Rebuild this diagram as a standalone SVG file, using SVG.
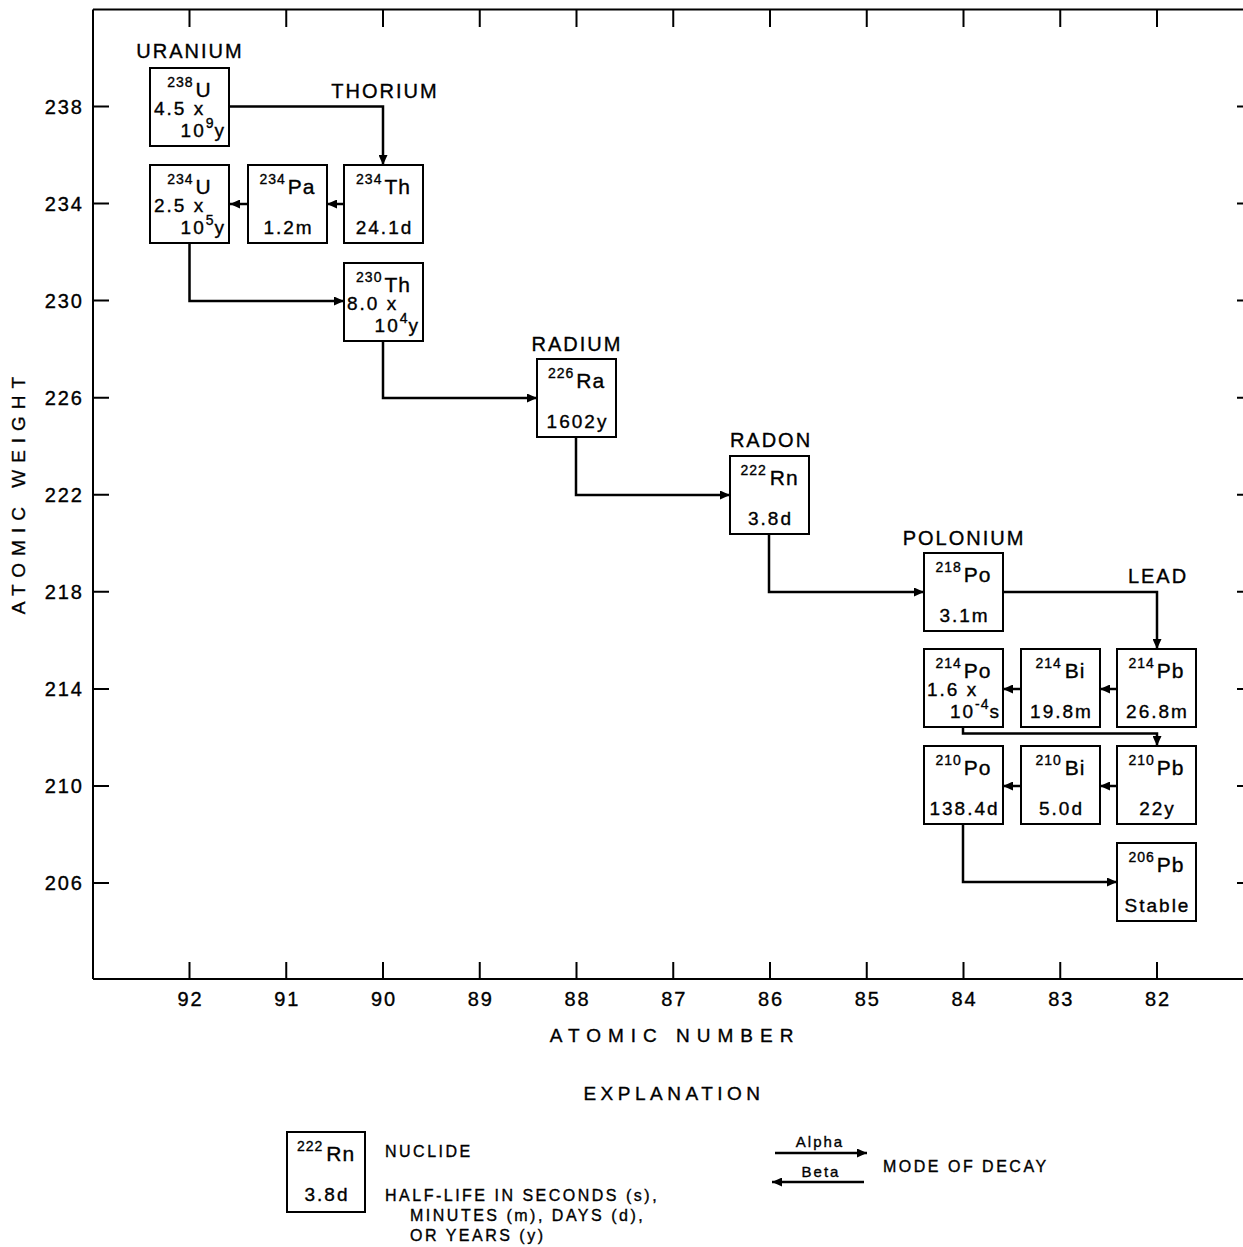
<svg xmlns="http://www.w3.org/2000/svg" width="1243" height="1247" viewBox="0 0 1243 1247">
<style>
text{font-family:"Liberation Sans",Arial,Helvetica,sans-serif;fill:#000;stroke:#000;stroke-width:0.35px}
.frame{fill:none;stroke:#000;stroke-width:2}
.tick{fill:none;stroke:#000;stroke-width:2}
.box{fill:#fff;stroke:#000;stroke-width:2}
.conn{fill:none;stroke:#000;stroke-width:2.5}
.lbl{font-size:20px;letter-spacing:2px;text-anchor:middle}
.axy{font-size:20px;letter-spacing:2px;text-anchor:end}
.axx{font-size:20px;letter-spacing:2px;text-anchor:middle}
.title{font-size:19px;letter-spacing:7px;text-anchor:middle}
.hdr{text-anchor:middle}
.sym{font-size:21px;letter-spacing:1px}
.sup{font-size:14px;letter-spacing:1px}
.hl{font-size:19px;letter-spacing:2px}
.mid{text-anchor:middle}
.end{text-anchor:end}
.leg{font-size:16px;letter-spacing:2.5px}
.legs{font-size:15px;letter-spacing:2px;text-anchor:middle}
</style>
<defs>
<marker id="ah" markerUnits="userSpaceOnUse" markerWidth="10" markerHeight="9" refX="10" refY="4.5" orient="auto">
<path d="M0,0 L10,4.5 L0,9 z" fill="#000"/>
</marker>
</defs>
<rect width="1243" height="1247" fill="#fff"/>

<g id="axes">
<path class="frame" d="M93,9.5 H1243 M93,9.5 V979 M93,979 H1243"/>
<path class="tick" d="M189.5,9.5V27 M286.25,9.5V27 M383,9.5V27 M479.75,9.5V27 M576.5,9.5V27 M673.25,9.5V27 M770,9.5V27 M866.75,9.5V27 M963.5,9.5V27 M1060.25,9.5V27 M1157,9.5V27"/>
<path class="tick" d="M189.5,979V962 M286.25,979V962 M383,979V962 M479.75,979V962 M576.5,979V962 M673.25,979V962 M770,979V962 M866.75,979V962 M963.5,979V962 M1060.25,979V962 M1157,979V962"/>
<path class="tick" d="M93,106.5H109 M93,203.6H109 M93,300.6H109 M93,397.7H109 M93,494.7H109 M93,591.8H109 M93,688.9H109 M93,785.9H109 M93,883H109"/>
<path class="tick" d="M1237,106.5H1243 M1237,203.6H1243 M1237,300.6H1243 M1237,397.7H1243 M1237,494.7H1243 M1237,591.8H1243 M1237,688.9H1243 M1237,785.9H1243 M1237,883H1243"/>
<text class="axy" x="84" y="113.5">238</text>
<text class="axy" x="84" y="210.6">234</text>
<text class="axy" x="84" y="307.6">230</text>
<text class="axy" x="84" y="404.7">226</text>
<text class="axy" x="84" y="501.7">222</text>
<text class="axy" x="84" y="598.8">218</text>
<text class="axy" x="84" y="695.9">214</text>
<text class="axy" x="84" y="792.9">210</text>
<text class="axy" x="84" y="890">206</text>
<text class="axx" x="190.5" y="1006">92</text>
<text class="axx" x="287.25" y="1006">91</text>
<text class="axx" x="384" y="1006">90</text>
<text class="axx" x="480.75" y="1006">89</text>
<text class="axx" x="577.5" y="1006">88</text>
<text class="axx" x="674.25" y="1006">87</text>
<text class="axx" x="771" y="1006">86</text>
<text class="axx" x="867.75" y="1006">85</text>
<text class="axx" x="964.5" y="1006">84</text>
<text class="axx" x="1061.25" y="1006">83</text>
<text class="axx" x="1158" y="1006">82</text>
<text class="title" x="675" y="1042">ATOMIC NUMBER</text>
<text class="title" transform="translate(25,495) rotate(-90)" x="3" y="0">ATOMIC WEIGHT</text>
</g>

<g id="element-labels">
<text class="lbl" x="190" y="58">URANIUM</text>
<text class="lbl" x="385" y="98">THORIUM</text>
<text class="lbl" x="577" y="351">RADIUM</text>
<text class="lbl" x="771" y="447">RADON</text>
<text class="lbl" x="964" y="545">POLONIUM</text>
<text class="lbl" x="1158" y="583">LEAD</text>
</g>

<g id="connectors">
<path class="conn" d="M229,106.5 H383 V165" marker-end="url(#ah)"/>
<path class="conn" d="M344,204 H327" marker-end="url(#ah)"/>
<path class="conn" d="M248,204 H230" marker-end="url(#ah)"/>
<path class="conn" d="M189.5,243 V301 H344" marker-end="url(#ah)"/>
<path class="conn" d="M383,341 V398 H537" marker-end="url(#ah)"/>
<path class="conn" d="M576,437 V495 H730" marker-end="url(#ah)"/>
<path class="conn" d="M769,534 V592 H924" marker-end="url(#ah)"/>
<path class="conn" d="M1003,592 H1157 V649" marker-end="url(#ah)"/>
<path class="conn" d="M1117,689 H1100" marker-end="url(#ah)"/>
<path class="conn" d="M1021,689 H1003" marker-end="url(#ah)"/>
<path class="conn" d="M963,727 V733.5 H1157 V746" marker-end="url(#ah)"/>
<path class="conn" d="M1117,786 H1100" marker-end="url(#ah)"/>
<path class="conn" d="M1021,786 H1003" marker-end="url(#ah)"/>
<path class="conn" d="M963,825 V882 H1117" marker-end="url(#ah)"/>
</g>

<g id="U238">
<rect class="box" x="150" y="68" width="79" height="78"/>
<text class="hdr" x="189.5" y="97"><tspan class="sup" dy="-10">238</tspan><tspan class="sym" dx="2" dy="10">U</tspan></text>
<text class="hl" x="154" y="115">4.5 x</text>
<text class="hl end" x="226" y="137">10<tspan class="sup" dy="-9">9</tspan><tspan dy="9">y</tspan></text>
</g>
<g id="Th234">
<rect class="box" x="344" y="165" width="79" height="78"/>
<text class="hdr" x="383.5" y="194"><tspan class="sup" dy="-10">234</tspan><tspan class="sym" dx="2" dy="10">Th</tspan></text>
<text class="hl mid" x="384.5" y="234">24.1d</text>
</g>
<g id="Pa234">
<rect class="box" x="248" y="165" width="79" height="78"/>
<text class="hdr" x="287.5" y="194"><tspan class="sup" dy="-10">234</tspan><tspan class="sym" dx="2" dy="10">Pa</tspan></text>
<text class="hl mid" x="288.5" y="234">1.2m</text>
</g>
<g id="U234">
<rect class="box" x="150" y="165" width="79" height="78"/>
<text class="hdr" x="189.5" y="194"><tspan class="sup" dy="-10">234</tspan><tspan class="sym" dx="2" dy="10">U</tspan></text>
<text class="hl" x="154" y="212">2.5 x</text>
<text class="hl end" x="226" y="234">10<tspan class="sup" dy="-9">5</tspan><tspan dy="9">y</tspan></text>
</g>
<g id="Th230">
<rect class="box" x="344" y="263" width="79" height="78"/>
<text class="hdr" x="383.5" y="292"><tspan class="sup" dy="-10">230</tspan><tspan class="sym" dx="2" dy="10">Th</tspan></text>
<text class="hl" x="347" y="310">8.0 x</text>
<text class="hl end" x="420" y="332">10<tspan class="sup" dy="-9">4</tspan><tspan dy="9">y</tspan></text>
</g>
<g id="Ra226">
<rect class="box" x="537" y="359" width="79" height="78"/>
<text class="hdr" x="576.5" y="388"><tspan class="sup" dy="-10">226</tspan><tspan class="sym" dx="2" dy="10">Ra</tspan></text>
<text class="hl mid" x="577.5" y="428">1602y</text>
</g>
<g id="Rn222">
<rect class="box" x="730" y="456" width="79" height="78"/>
<text class="hdr" x="769.5" y="485"><tspan class="sup" dy="-10">222</tspan><tspan class="sym" dx="3" dy="10">Rn</tspan></text>
<text class="hl mid" x="770.5" y="525">3.8d</text>
</g>
<g id="Po218">
<rect class="box" x="924" y="553" width="79" height="78"/>
<text class="hdr" x="963.5" y="582"><tspan class="sup" dy="-10">218</tspan><tspan class="sym" dx="2" dy="10">Po</tspan></text>
<text class="hl mid" x="964.5" y="622">3.1m</text>
</g>
<g id="Pb214">
<rect class="box" x="1117" y="649" width="79" height="78"/>
<text class="hdr" x="1156.5" y="678"><tspan class="sup" dy="-10">214</tspan><tspan class="sym" dx="2" dy="10">Pb</tspan></text>
<text class="hl mid" x="1157.5" y="718">26.8m</text>
</g>
<g id="Bi214">
<rect class="box" x="1021" y="649" width="79" height="78"/>
<text class="hdr" x="1060.5" y="678"><tspan class="sup" dy="-10">214</tspan><tspan class="sym" dx="3" dy="10">Bi</tspan></text>
<text class="hl mid" x="1061.5" y="718">19.8m</text>
</g>
<g id="Po214">
<rect class="box" x="924" y="649" width="79" height="78"/>
<text class="hdr" x="963.5" y="678"><tspan class="sup" dy="-10">214</tspan><tspan class="sym" dx="2" dy="10">Po</tspan></text>
<text class="hl" x="927" y="696">1.6 x</text>
<text class="hl end" x="1001" y="718">10<tspan class="sup" dy="-9">-4</tspan><tspan dy="9">s</tspan></text>
</g>
<g id="Pb210">
<rect class="box" x="1117" y="746" width="79" height="78"/>
<text class="hdr" x="1156.5" y="775"><tspan class="sup" dy="-10">210</tspan><tspan class="sym" dx="2" dy="10">Pb</tspan></text>
<text class="hl mid" x="1157.5" y="815">22y</text>
</g>
<g id="Bi210">
<rect class="box" x="1021" y="746" width="79" height="78"/>
<text class="hdr" x="1060.5" y="775"><tspan class="sup" dy="-10">210</tspan><tspan class="sym" dx="3" dy="10">Bi</tspan></text>
<text class="hl mid" x="1061.5" y="815">5.0d</text>
</g>
<g id="Po210">
<rect class="box" x="924" y="746" width="79" height="78"/>
<text class="hdr" x="963.5" y="775"><tspan class="sup" dy="-10">210</tspan><tspan class="sym" dx="2" dy="10">Po</tspan></text>
<text class="hl mid" x="964.5" y="815">138.4d</text>
</g>
<g id="Pb206">
<rect class="box" x="1117" y="843" width="79" height="78"/>
<text class="hdr" x="1156.5" y="872"><tspan class="sup" dy="-10">206</tspan><tspan class="sym" dx="2" dy="10">Pb</tspan></text>
<text class="hl mid" x="1157.5" y="912">Stable</text>
</g>

<g id="explanation">
<text class="title" x="674" y="1100" style="letter-spacing:4.5px">EXPLANATION</text>
<g id="legend-nuclide">
<rect class="box" x="287" y="1132" width="78" height="80"/>
<text class="hdr" x="326" y="1161"><tspan class="sup" dy="-10">222</tspan><tspan class="sym" dx="3" dy="10">Rn</tspan></text>
<text class="hl mid" x="327" y="1201">3.8d</text>
</g>
<text class="leg" x="385" y="1157">NUCLIDE</text>
<text class="leg" x="385" y="1201">HALF-LIFE IN SECONDS (s),</text>
<text class="leg" x="410" y="1221">MINUTES (m), DAYS (d),</text>
<text class="leg" x="410" y="1241">OR YEARS (y)</text>
<g id="legend-decay">
<path class="conn" d="M775,1153 H867" marker-end="url(#ah)"/>
<path class="conn" d="M864,1182 H772" marker-end="url(#ah)"/>
<text class="legs" x="820" y="1147">Alpha</text>
<text class="legs" x="821" y="1177">Beta</text>
</g>
<text class="leg" x="883" y="1172">MODE OF DECAY</text>
</g>
</svg>
